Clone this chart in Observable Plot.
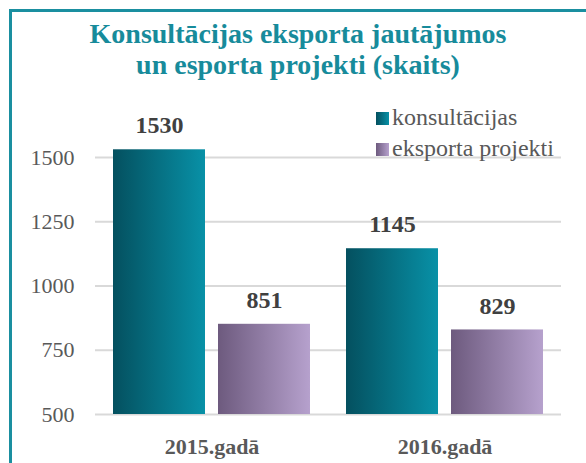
<!DOCTYPE html>
<html>
<head>
<meta charset="utf-8">
<script src="https://cdn.jsdelivr.net/npm/d3@7"></script>
<script src="https://cdn.jsdelivr.net/npm/@observablehq/plot@0.6"></script>
<style>
  body { margin: 0; background: #fff; }
  #wrap { position: relative; width: 586px; height: 463px; overflow: hidden; font-family: "Liberation Serif", "Times New Roman", serif; }
  #frame { position: absolute; left: 9px; top: 9px; right: -20px; bottom: -20px; border-left: 3px solid #1a8fa0; border-top: 3px solid #1a8fa0; }
  #title { position: absolute; left: 10px; width: 576px; top: 18px; text-align: center; font-weight: bold; font-size: 28px; line-height: 31px; color: #178b9b; }
  #chart { position: absolute; left: 0; top: 88px; }
  .leg { position: absolute; font-size: 24px; line-height: 24px; color: #595959; white-space: nowrap; }
  .sw { position: absolute; width: 13px; height: 13px; }
</style>
</head>
<body>
<div id="wrap">
  <div id="frame"></div>
  <div id="title">Konsultācijas eksporta jautājumos<br>un esporta projekti (skaits)</div>
  <div id="chart"></div>
  <div id="legend"></div>
</div>
<script>
const years = ["2015.gadā", "2016.gadā"];
const series = ["konsultācijas", "eksporta projekti"];
const konsultacijas = [1530, 1145];
const eksportaProjekti = [851, 829];
const yTicks = [500, 750, 1000, 1250, 1500];
const gradients = [["#04505f", "#0891a7"], ["#6d5a7e", "#b6a1cd"]];

const data = [];
years.forEach((y, i) => {
  data.push({year: y, series: series[0], value: konsultacijas[i]});
  data.push({year: y, series: series[1], value: eksportaProjekti[i]});
});

const yMin = yTicks[0];

const plot = Plot.plot({
  width: 586,
  height: 375,
  marginLeft: 94,
  marginRight: 25,
  marginTop: 69,
  marginBottom: 49,
  style: {fontFamily: "'Liberation Serif', 'Times New Roman', serif", fontSize: "22px", color: "#595959", background: "transparent"},
  fx: {domain: years, paddingInner: 0, paddingOuter: 0, label: null},
  x: {domain: series, paddingInner: 0.123, paddingOuter: 0.163, axis: null},
  y: {domain: [yMin, yTicks[yTicks.length - 1]], label: null},
  color: {domain: series, range: ["url(#g0)", "url(#g1)"]},
  marks: [
    Plot.ruleY(yTicks, {stroke: "#d9d9d9", strokeWidth: 2}),
    Plot.barY(data, {fx: "year", x: "series", y1: yMin, y2: "value", fill: "series"}),
    Plot.text(data, {fx: "year", x: "series", y: "value", text: d => String(d.value), dy: -24, fontWeight: "bold", fontSize: 24, fill: "#404040"}),
    Plot.axisY({ticks: yTicks, tickFormat: d => String(d), tickSize: 0, tickPadding: 21, fontSize: 22, label: null}),
    Plot.axisFx({anchor: "bottom", tickSize: 0, tickPadding: 24, fontSize: 22, fontWeight: "bold", label: null})
  ]
});

const svg = d3.select(plot);
const defs = svg.insert("defs", ":first-child");
gradients.forEach((g, i) => {
  const lg = defs.append("linearGradient").attr("id", "g" + i).attr("x1", "0").attr("x2", "1").attr("y1", "0").attr("y2", "0");
  lg.append("stop").attr("offset", "0").attr("stop-color", g[0]);
  lg.append("stop").attr("offset", "1").attr("stop-color", g[1]);
});
document.getElementById("chart").appendChild(plot);

const legend = document.getElementById("legend");
series.forEach((s, i) => {
  const sw = document.createElement("div");
  sw.className = "sw";
  sw.style.left = "376px";
  sw.style.top = (112 + i * 31) + "px";
  sw.style.background = `linear-gradient(to right, ${gradients[i][0]}, ${gradients[i][1]})`;
  legend.appendChild(sw);
  const t = document.createElement("div");
  t.className = "leg";
  t.style.left = "392px";
  t.style.top = (105 + i * 31) + "px";
  t.textContent = s;
  legend.appendChild(t);
});
</script>
</body>
</html>
